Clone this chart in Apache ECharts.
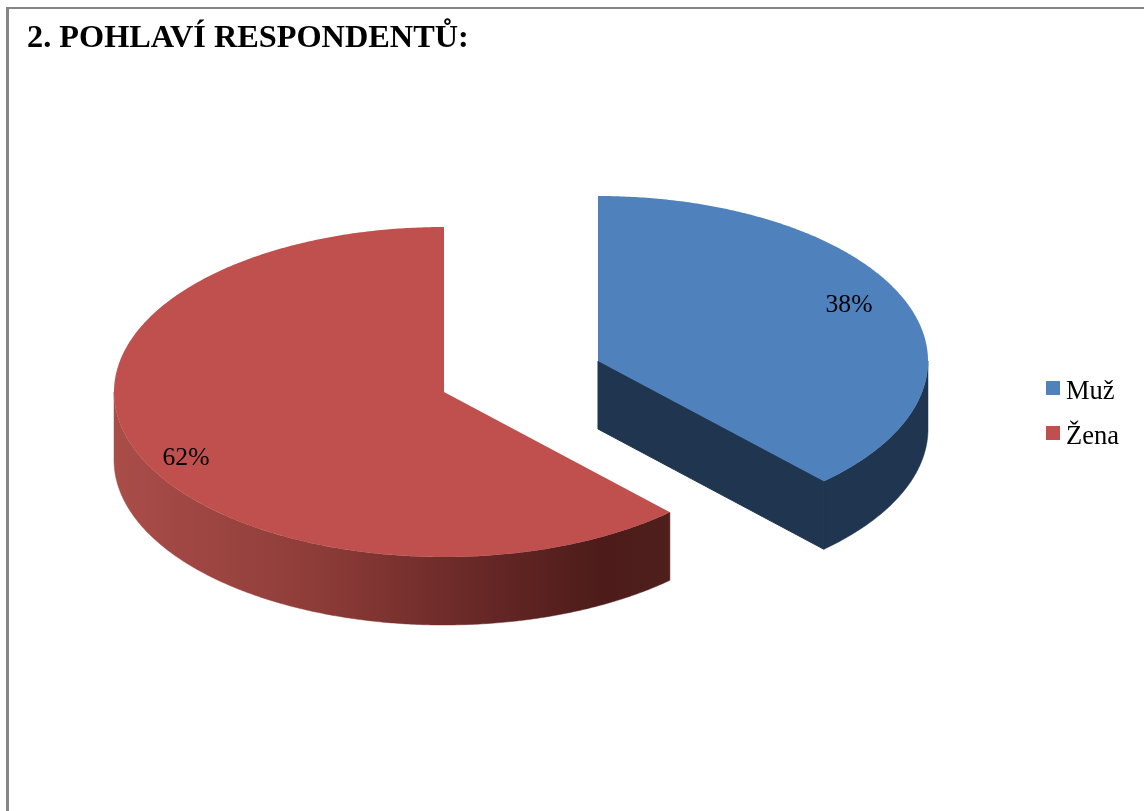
<!DOCTYPE html>
<html>
<head>
<meta charset="utf-8">
<style>
  html, body { margin: 0; padding: 0; background: #fff; }
  #chart { width: 1144px; height: 811px; }
</style>
<script src="https://cdn.jsdelivr.net/npm/echarts@6/dist/echarts.min.js"></script>
</head>
<body>
<div id="chart"></div>
<script>
// Survey results: gender of the respondents
const titleText = '2. POHLAVÍ RESPONDENTŮ:';
const categories = ['Muž', 'Žena'];
const shares = [38, 62];

// Exploded 3D-style pie geometry, one entry per slice
const radiusX = 330, radiusY = 165, depth = 68;
const centers = [[598, 361], [444, 392]];
const labelSpots = [[849, 305], [186, 458]];
const topColors = ['#4f81bd', '#c0504d'];

const sideFills = [
  '#1f3550',
  new echarts.graphic.LinearGradient(114, 0, 672, 0, [
    { offset: 0, color: '#aa4d49' },
    { offset: 0.35, color: '#8f3d39' },
    { offset: 0.62, color: '#6c2a28' },
    { offset: 0.87, color: '#4d1c1a' },
    { offset: 1, color: '#4f1f1c' }
  ], true)
];

const total = shares.reduce((a, b) => a + b, 0);

// Angles run clockwise from twelve o'clock, in degrees
function sliceRange(index) {
  let start = 0;
  for (let i = 0; i < index; i++) start += shares[i] / total * 360;
  return [start, start + shares[index] / total * 360];
}

function rimPoint(c, deg, drop) {
  const t = deg * Math.PI / 180;
  return [c[0] + radiusX * Math.sin(t), c[1] - radiusY * Math.cos(t) + drop];
}

function arcPoints(c, from, to, drop) {
  const pts = [];
  const steps = Math.max(2, Math.ceil(Math.abs(to - from) * 2));
  for (let i = 0; i <= steps; i++) pts.push(rimPoint(c, from + (to - from) * i / steps, drop));
  return pts;
}

function renderSlice(index) {
  const c = centers[index];
  const [start, end] = sliceRange(index);
  const children = [];

  // Cut face along the closing radius when it points towards the viewer
  if (end > 90 && end < 180) {
    const e = rimPoint(c, end, 0);
    const face = [c, e, [e[0], e[1] + depth], [c[0], c[1] + depth]];
    children.push({
      type: 'polygon',
      shape: { points: face },
      style: { fill: sideFills[index], stroke: sideFills[index], lineWidth: 1 }
    });
  }

  // Outer wall: only the front half of the rim faces the viewer
  const wallFrom = Math.max(start, 90), wallTo = Math.min(end, 270);
  if (wallTo > wallFrom) {
    const wall = arcPoints(c, wallFrom, wallTo, 0).concat(arcPoints(c, wallTo, wallFrom, depth));
    children.push({
      type: 'polygon',
      shape: { points: wall },
      style: { fill: sideFills[index], stroke: sideFills[index], lineWidth: 0.5 }
    });
  }

  // Top surface
  const top = [c].concat(arcPoints(c, start, end, 0));
  children.push({ type: 'polygon', shape: { points: top }, style: { fill: topColors[index] } });

  // Percentage label
  children.push({
    type: 'text',
    style: {
      x: labelSpots[index][0], y: labelSpots[index][1],
      text: shares[index] + '%',
      fill: '#000', align: 'center', verticalAlign: 'middle',
      font: '25.6px "Liberation Serif"'
    }
  });
  return { type: 'group', children };
}

const series = categories.map((name, i) => ({
  type: 'custom',
  name,
  coordinateSystem: 'none',
  data: [shares[i]],
  itemStyle: { color: topColors[i] },
  renderItem: () => renderSlice(i),
  animation: false,
  silent: true
}));

const chart = echarts.init(document.getElementById('chart'), null, { renderer: 'canvas' });
chart.setOption({
  animation: false,
  backgroundColor: '#fff',
  title: {
    text: titleText,
    left: 22, top: 18,
    textStyle: { fontFamily: 'Liberation Serif', fontSize: 32.3, fontWeight: 'bold', color: '#000' }
  },
  legend: {
    left: 1046, top: 379,
    orient: 'vertical',
    itemWidth: 14, itemHeight: 14, itemGap: 18,
    icon: 'rect',
    data: categories,
    selectedMode: false,
    formatter: name => '{entry|' + name + '}',
    textStyle: {
      rich: {
        entry: {
          fontFamily: 'Liberation Serif', fontSize: 26.5, color: '#000',
          padding: [9, 0, 0, 1]
        }
      }
    },
    padding: 0
  },
  graphic: [
    { type: 'rect', silent: true, shape: { x: 6, y: 7, width: 1138, height: 2 }, style: { fill: '#868686' } },
    { type: 'rect', silent: true, shape: { x: 6, y: 7, width: 3, height: 804 }, style: { fill: '#868686' } }
  ],
  series
});
</script>
</body>
</html>
